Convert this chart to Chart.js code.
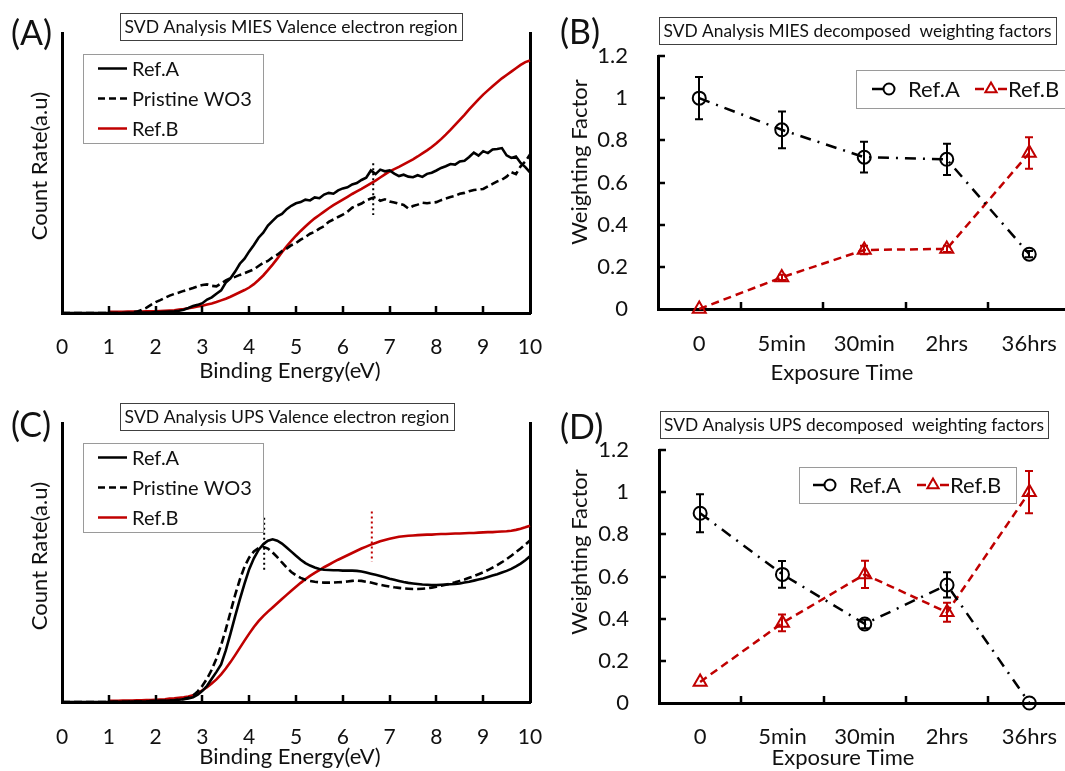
<!DOCTYPE html>
<html>
<head>
<meta charset="utf-8">
<script src="https://cdn.jsdelivr.net/npm/chart.js@4.4.1/dist/chart.umd.min.js"></script>
<style>
  html, body { margin: 0; padding: 0; background: #fff; }
  #fig { position: relative; width: 1065px; height: 771px; overflow: hidden; background: #fff; }
  #fig canvas { position: absolute; }
</style>
</head>
<body>
<div id="fig">
  <canvas id="cB" width="540" height="390" style="left:540px;top:0"></canvas>
  <canvas id="cD" width="540" height="381" style="left:540px;top:390px"></canvas>
  <canvas id="cA" width="560" height="390" style="left:0;top:0"></canvas>
  <canvas id="cC" width="560" height="381" style="left:0;top:390px"></canvas>
</div>
<script>
// ---------- data ----------
const energy = [
  0,0.1,0.2,0.3,0.4,0.5,0.6,0.7,0.8,0.9,
  1,1.1,1.2,1.3,1.4,1.5,1.6,1.7,1.8,1.9,
  2,2.1,2.2,2.3,2.4,2.5,2.6,2.7,2.8,2.9,
  3,3.1,3.2,3.3,3.4,3.5,3.6,3.7,3.8,3.9,
  4,4.1,4.2,4.3,4.4,4.5,4.6,4.7,4.8,4.9,
  5,5.1,5.2,5.3,5.4,5.5,5.6,5.7,5.8,5.9,
  6,6.1,6.2,6.3,6.4,6.5,6.6,6.7,6.8,6.9,
  7,7.1,7.2,7.3,7.4,7.5,7.6,7.7,7.8,7.9,
  8,8.1,8.2,8.3,8.4,8.5,8.6,8.7,8.8,8.9,
  9,9.1,9.2,9.3,9.4,9.5,9.6,9.7,9.8,9.9,
  10
];
const energyTicks = [0,1,2,3,4,5,6,7,8,9,10];

// MIES valence region (count rate, arbitrary units)
const miesRefA = [
  0,0,0,0,0,0,0,0,0,0,
  0,0,0,0,0.1,0.1,0.1,0.2,0.2,0.2,
  0.3,0.3,0.4,0.5,0.6,0.8,1.2,1.8,2.5,2.9,
  3.5,4.8,5.6,6.9,8.1,10.9,12.4,14.8,17.6,19.4,
  22.0,24.3,26.9,28.7,31.2,32.9,34.5,35.4,37.1,38.3,
  39.2,39.6,40.5,40.2,41.3,41.0,42.3,42.9,42.6,43.8,
  44.5,44.9,45.9,46.4,47.5,48.3,50.9,49.6,51.2,50.6,
  50.9,49.8,48.9,49.4,48.7,48.5,49.2,48.6,49.7,50.1,
  50.9,51.8,52.4,53.2,53.0,54.1,54.4,55.7,57.3,56.2,
  57.8,57.1,58.4,58.6,58.9,56.3,55.4,55.9,53.6,52.1,
  50.2
];
const miesPristine = [
  0,0,0,0,0,0,0,0,0,0,
  0,0,0,0,0,0.2,0.5,1.1,1.8,2.9,
  3.9,4.6,5.4,6.2,6.8,7.3,7.9,8.4,8.9,9.5,
  10.0,10.2,9.7,9.5,10.6,11.6,12.4,12.9,13.6,14.2,
  14.9,15.6,16.8,17.9,18.6,19.9,20.8,22.1,23.0,24.2,
  25.0,26.2,27.1,28.3,29.0,30.1,31.0,32.6,33.4,34.3,
  35.1,36.2,37.6,38.4,39.1,40.2,40.9,41.4,40.1,40.6,
  39.8,39.5,39.0,38.6,37.3,38.2,38.7,39.4,39.2,39.4,
  39.6,40.3,40.9,41.4,41.8,42.6,42.9,43.5,43.9,44.1,
  44.3,45.2,46.1,47.0,47.6,48.7,50.3,49.6,52.4,54.1,
  56.6
];
const miesRefB = [
  null,null,null,null,null,null,null,null,null,null,
  0.4,0.4,0.4,0.4,0.5,0.5,0.5,0.5,0.6,0.6,
  0.6,0.7,0.8,0.9,1.0,1.2,1.4,1.7,2.0,2.3,
  2.6,3.0,3.4,3.9,4.5,5.1,5.8,6.6,7.4,8.2,
  9.1,10.3,11.8,13.4,15.3,17.3,19.4,21.7,23.8,25.8,
  27.6,29.3,30.9,32.4,33.8,35.0,36.2,37.4,38.5,39.5,
  40.5,41.5,42.5,43.4,44.3,45.3,46.3,47.3,48.4,49.5,
  50.6,51.4,52.2,53.1,54.0,54.9,55.9,57.0,58.1,59.3,
  60.6,62.1,63.7,65.4,67.2,69.0,70.8,72.7,74.5,76.3,
  78.0,79.5,81.0,82.4,83.8,85.0,86.2,87.4,88.6,89.6,
  90.2
];
const miesPeakMark = [{x: 6.65, y: 53.5}, {x: 6.65, y: 35.0}];

// UPS valence region (count rate, arbitrary units)
const upsRefA = [
  0,0,0,0,0,0,0,0,0,0,
  0,0.1,0.1,0.1,0.1,0.2,0.2,0.2,0.2,0.3,
  0.3,0.4,0.4,0.5,0.6,0.8,1.0,1.3,1.7,2.6,
  4.0,5.8,8.3,10.8,13.5,18.5,24.5,30.8,36.8,42.4,
  47.6,51.5,54.5,56.6,57.8,58.3,57.8,56.8,55.4,53.9,
  52.4,51.0,49.8,48.9,48.2,47.7,47.4,47.3,47.2,47.2,
  47.1,47.1,47.1,47.0,46.8,46.4,46.0,45.6,45.2,44.7,
  44.2,43.8,43.4,43.0,42.7,42.5,42.3,42.1,42.0,41.9,
  41.9,42.0,42.1,42.2,42.3,42.5,42.8,43.1,43.5,43.9,
  44.3,44.8,45.3,45.8,46.4,47.0,47.7,48.6,49.6,50.8,
  52.2
];
const upsPristine = [
  0,0,0,0,0,0,0,0,0,0,
  0,0.1,0.1,0.1,0.1,0.2,0.2,0.2,0.2,0.3,
  0.3,0.4,0.4,0.5,0.6,0.8,1.1,1.5,2.3,3.8,
  5.8,8.4,11.6,15.6,20.4,26.0,32.2,38.4,43.9,48.5,
  51.8,54.0,55.2,55.6,55.0,53.6,51.9,50.0,48.2,46.6,
  45.4,44.5,43.8,43.4,43.1,42.9,42.8,42.8,42.8,42.9,
  43.0,43.2,43.4,43.5,43.4,43.1,42.8,42.4,42.0,41.7,
  41.4,41.1,40.9,40.7,40.6,40.5,40.5,40.6,40.7,41.0,
  41.3,41.7,42.0,42.5,42.9,43.4,43.9,44.5,45.1,45.8,
  46.5,47.3,48.2,49.1,50.1,51.2,52.4,53.7,55.0,56.4,
  57.9
];
const upsRefB = [
  null,null,null,null,null,null,null,null,null,null,
  0.4,0.4,0.4,0.5,0.5,0.5,0.6,0.6,0.7,0.7,
  0.8,0.9,1.0,1.2,1.3,1.5,1.7,2.0,2.4,3.1,
  4.2,5.3,6.6,8.1,9.9,12.0,14.3,16.8,19.4,22.0,
  24.5,26.9,29.0,30.8,32.4,33.9,35.4,36.9,38.4,39.9,
  41.3,42.7,44.0,45.2,46.3,47.3,48.3,49.2,50.1,51.0,
  51.8,52.6,53.4,54.2,55.0,55.7,56.4,57.0,57.6,58.1,
  58.5,58.9,59.2,59.4,59.6,59.7,59.8,59.9,60.0,60.0,
  60.1,60.2,60.2,60.3,60.4,60.4,60.5,60.6,60.6,60.7,
  60.8,60.9,60.9,61.0,61.1,61.2,61.4,61.7,62.1,62.6,
  63.2
];
const upsPeakMarkA = [{x: 4.32, y: 66.0}, {x: 4.32, y: 47.3}];
const upsPeakMarkB = [{x: 6.62, y: 68.3}, {x: 6.62, y: 50.3}];

// decomposed weighting factors
const exposure = ['0', '5min', '30min', '2hrs', '36hrs'];
const weightTicks = [0, 0.2, 0.4, 0.6, 0.8, 1, 1.2];
const miesWeightA    = [1.00, 0.85, 0.72, 0.71, 0.26];
const miesWeightAErr = [0.10, 0.087, 0.073, 0.074, 0.015];
const miesWeightB    = [0.00, 0.15, 0.28, 0.285, 0.74];
const miesWeightBErr = [0.00, 0.012, 0.02, 0.015, 0.075];
const upsWeightA     = [0.90, 0.61, 0.375, 0.56, 0.00];
const upsWeightAErr  = [0.09, 0.063, 0.02, 0.06, 0.00];
const upsWeightB     = [0.10, 0.38, 0.61, 0.43, 1.00];
const upsWeightBErr  = [0.00, 0.04, 0.065, 0.045, 0.10];

// ---------- styling ----------
const FONT = 'Lato, "Open Sans", sans-serif';
const INK = '#111';
const RED = '#c00000';
Chart.defaults.font.family = FONT;
Chart.defaults.color = INK;

function points(vals) {
  return energy.map((e, i) => ({x: e, y: vals[i]})).filter(p => p.y !== null);
}

function hollowMarker(ctx, style, color, r, x, y) {
  ctx.save();
  ctx.setLineDash([]);
  ctx.strokeStyle = color;
  ctx.fillStyle = 'rgba(0,0,0,0)';
  ctx.lineWidth = 2;
  Chart.helpers.drawPoint(ctx, {pointStyle: style, radius: r, borderWidth: 2, rotation: 0}, x, y);
  ctx.restore();
}

// axis tick marks pointing into the plot, panel letter, boxed title, axis titles and legend
const decor = {
  id: 'decor',
  afterDraw(chart, args, o) {
    const ctx = chart.ctx;
    const area = chart.chartArea;
    const xs = chart.scales.x, ys = chart.scales.y;
    ctx.save();
    ctx.strokeStyle = '#000';
    ctx.lineWidth = 2.5;
    ctx.setLineDash([]);
    ctx.beginPath();
    if (o.xInner === 'linear') {
      xs.ticks.forEach(t => {
        if (t.value > xs.min && t.value < xs.max) {
          const px = Math.round(xs.getPixelForValue(t.value));
          ctx.moveTo(px, area.bottom); ctx.lineTo(px, area.bottom - 7);
        }
      });
    } else {
      for (let i = 0; i < xs.ticks.length - 1; i++) {
        const px = Math.round((xs.getPixelForValue(i) + xs.getPixelForValue(i + 1)) / 2);
        ctx.moveTo(px, area.bottom); ctx.lineTo(px, area.bottom - 7);
      }
      ys.ticks.forEach(t => {
        if (t.value > ys.min) {
          const py = Math.round(ys.getPixelForValue(t.value));
          ctx.moveTo(area.left, py); ctx.lineTo(area.left + 7, py);
        }
      });
    }
    ctx.stroke();

    // panel letter
    ctx.fillStyle = INK;
    ctx.font = `34px ${FONT}`;
    ctx.textAlign = 'left';
    ctx.textBaseline = 'middle';
    ctx.fillText(o.letter, o.letterPos[0], o.letterPos[1]);

    // boxed title, text fitted to the box
    const [bx, by, bw, bh] = o.titleBox;
    ctx.fillStyle = '#fff';
    ctx.fillRect(bx, by, bw, bh);
    ctx.strokeStyle = '#404040';
    ctx.lineWidth = 1;
    ctx.strokeRect(Math.round(bx) + 0.5, Math.round(by) + 0.5, Math.round(bw), Math.round(bh));
    ctx.font = `16px ${FONT}`;
    const fs = 16 * o.titleWidth / ctx.measureText(o.title).width;
    ctx.font = `${fs.toFixed(2)}px ${FONT}`;
    ctx.fillStyle = INK;
    ctx.textAlign = 'center';
    ctx.fillText(o.title, bx + bw / 2, by + bh / 2 + 1);

    // axis titles
    ctx.font = `22px ${FONT}`;
    ctx.fillText(o.xTitle[0], o.xTitle[1], o.xTitle[2]);
    ctx.save();
    ctx.translate(o.yTitle[1], o.yTitle[2]);
    ctx.rotate(-Math.PI / 2);
    ctx.fillText(o.yTitle[0], 0, 0);
    ctx.restore();

    // legend
    const lg = o.legend;
    const [lx, ly, lw, lh] = lg.box;
    ctx.fillStyle = '#fff';
    ctx.fillRect(lx, ly, lw, lh);
    ctx.strokeStyle = '#9a9a9a';
    ctx.lineWidth = 1;
    ctx.strokeRect(Math.round(lx) + 0.5, Math.round(ly) + 0.5, Math.round(lw), Math.round(lh));
    ctx.font = `${lg.fontSize}px ${FONT}`;
    ctx.textAlign = 'left';
    lg.items.forEach(it => {
      ctx.strokeStyle = it.color;
      ctx.lineWidth = 2.5;
      ctx.setLineDash(it.dash || []);
      ctx.beginPath();
      it.segs.forEach(s => { ctx.moveTo(s[0], it.y); ctx.lineTo(s[1], it.y); });
      ctx.stroke();
      ctx.setLineDash([]);
      if (it.marker) hollowMarker(ctx, it.marker, it.color, it.r, it.mx, it.y);
      ctx.fillStyle = INK;
      ctx.fillText(it.label, it.tx, it.y + 1);
    });
    ctx.restore();
  }
};

// vertical error bars for the weighting-factor panels
const errorBars = {
  id: 'errorBars',
  afterDatasetsDraw(chart) {
    const ctx = chart.ctx;
    const xs = chart.scales.x, ys = chart.scales.y;
    ctx.save();
    ctx.setLineDash([]);
    ctx.lineWidth = 2;
    chart.data.datasets.forEach(ds => {
      if (!ds.errors) return;
      ctx.strokeStyle = ds.borderColor;
      ds.data.forEach((v, i) => {
        const e = ds.errors[i];
        if (!e) return;
        const px = Math.round(xs.getPixelForValue(i));
        const y1 = ys.getPixelForValue(v + e), y2 = ys.getPixelForValue(v - e);
        ctx.beginPath();
        ctx.moveTo(px, y1); ctx.lineTo(px, y2);
        ctx.moveTo(px - 4, y1); ctx.lineTo(px + 4, y1);
        ctx.moveTo(px - 4, y2); ctx.lineTo(px + 4, y2);
        ctx.stroke();
      });
    });
    ctx.restore();
  }
};

const axisBorder = {display: true, color: '#000', width: 3};

function spectrumChart(id, series, marks, g, decorOpts) {
  const datasets = [
    {label: 'Ref.A', data: points(series[0]), borderColor: '#000', borderWidth: 2.6},
    {label: 'Pristine WO3', data: points(series[1]), borderColor: '#000', borderWidth: 2.6, borderDash: [8, 4]},
    {label: 'Ref.B', data: points(series[2]), borderColor: RED, borderWidth: 2.6}
  ].concat(marks.map(m => ({data: m.data, borderColor: m.color, borderWidth: 2, borderDash: [2, 3]})));
  datasets.forEach(d => { d.pointRadius = 0; d.tension = 0; d.clip = false; });
  return new Chart(document.getElementById(id), {
    type: 'line',
    data: {datasets},
    plugins: [decor],
    options: {
      responsive: false, animation: false, devicePixelRatio: 1,
      layout: {padding: {left: 0, top: g.top, right: g.right, bottom: 0}},
      plugins: {legend: {display: false}, tooltip: {enabled: false}, decor: decorOpts},
      scales: {
        x: {
          type: 'linear', min: 0, max: 10,
          grid: {display: false}, border: axisBorder,
          ticks: {font: {size: 21}, color: INK, padding: g.tickPad, autoSkip: false, maxRotation: 0, callback: v => String(v)},
          afterBuildTicks: s => { s.ticks = energyTicks.map(v => ({value: v})); },
          afterFit: s => { s.height = g.xh; s.paddingLeft = 0; s.paddingRight = 0; }
        },
        y: {
          min: 0, max: 100,
          grid: {display: false}, border: axisBorder, ticks: {display: false},
          afterFit: s => { s.width = g.left; s.paddingTop = 0; s.paddingBottom = 0; }
        },
        yRight: {
          position: 'right', min: 0, max: 100,
          grid: {display: false}, border: axisBorder, ticks: {display: false},
          afterFit: s => { s.width = 0; s.paddingTop = 0; s.paddingBottom = 0; }
        }
      }
    }
  });
}

function weightChart(id, a, aErr, b, bErr, g, decorOpts) {
  return new Chart(document.getElementById(id), {
    type: 'line',
    data: {
      labels: exposure,
      datasets: [
        {label: 'Ref.A', data: a, errors: aErr, borderColor: '#000', borderWidth: 2.5, borderDash: [11, 7, 2, 7],
         pointStyle: 'circle', pointRadius: 6.5, pointBorderWidth: 2, pointBorderColor: '#000',
         pointBackgroundColor: 'rgba(0,0,0,0)', tension: 0, clip: false},
        {label: 'Ref.B', data: b, errors: bErr, borderColor: RED, borderWidth: 2.5, borderDash: [8, 5],
         pointStyle: 'triangle', pointRadius: 7.5, pointBorderWidth: 2, pointBorderColor: RED,
         pointBackgroundColor: 'rgba(0,0,0,0)', tension: 0, clip: false}
      ]
    },
    plugins: [errorBars, decor],
    options: {
      responsive: false, animation: false, devicePixelRatio: 1,
      layout: {padding: {left: 0, top: g.top, right: g.right, bottom: 0}},
      plugins: {legend: {display: false}, tooltip: {enabled: false}, decor: decorOpts},
      scales: {
        x: {
          type: 'category', offset: true,
          grid: {display: false, offset: true}, border: axisBorder,
          ticks: {font: {size: 22}, color: INK, padding: g.tickPad, autoSkip: false, maxRotation: 0},
          afterFit: s => { s.height = g.xh; s.paddingLeft = 0; s.paddingRight = 0; }
        },
        y: {
          min: 0, max: 1.2,
          grid: {display: false}, border: axisBorder,
          ticks: {font: {size: 22}, color: INK, padding: 22, callback: v => String(v)},
          afterBuildTicks: s => { s.ticks = weightTicks.map(v => ({value: v})); },
          afterFit: s => { s.width = g.left; s.paddingTop = 0; s.paddingBottom = 0; }
        }
      }
    }
  });
}

function spectrumLegend(boxTop) {
  const r0 = boxTop + 14.5;
  return {
    box: [82.5, boxTop, 180, 89], fontSize: 20,
    items: [
      {label: 'Ref.A', color: '#000', segs: [[98, 127]], y: r0, tx: 132},
      {label: 'Pristine WO3', color: '#000', dash: [7, 4], segs: [[98, 127]], y: r0 + 30, tx: 132},
      {label: 'Ref.B', color: RED, segs: [[98, 127]], y: r0 + 60, tx: 132}
    ]
  };
}

function weightLegend(box, y, xA, xB) {
  return {
    box, fontSize: 22,
    items: [
      {label: 'Ref.A', color: '#000', segs: [[xA, xA + 12]], marker: 'circle', r: 5.5, mx: xA + 17, y, tx: xA + 36},
      {label: 'Ref.B', color: RED, segs: [[xB, xB + 9], [xB + 23, xB + 32]], marker: 'triangle', r: 6.5, mx: xB + 16, y, tx: xB + 33}
    ]
  };
}

// (A) MIES spectra
spectrumChart('cA', [miesRefA, miesPristine, miesRefB],
  [{data: miesPeakMark, color: '#000'}],
  {top: 33, right: 30, left: 62, xh: 77, tickPad: 14},
  {letter: '(A)', letterPos: [11, 34],
   title: 'SVD Analysis MIES Valence electron region', titleBox: [120, 13, 342, 27], titleWidth: 333,
   xTitle: ['Binding Energy(eV)', 290, 371], yTitle: ['Count Rate(a.u)', 40, 166],
   xInner: 'linear', legend: spectrumLegend(54)});

// (B) MIES weighting factors
weightChart('cB', miesWeightA, miesWeightAErr, miesWeightB, miesWeightBErr,
  {top: 56, right: 5, left: 118, xh: 81, tickPad: 14},
  {letter: '(B)', letterPos: [20, 33],
   title: 'SVD Analysis MIES decomposed  weighting factors', titleBox: [119, 17, 397, 27], titleWidth: 388,
   xTitle: ['Exposure Time', 302, 373], yTitle: ['Weighting Factor', 40, 162],
   xInner: 'category', legend: weightLegend([316, 70, 230, 38], 89, 332, 435)});

// (C) UPS spectra
spectrumChart('cC', [upsRefA, upsPristine, upsRefB],
  [{data: upsPeakMarkA, color: '#000'}, {data: upsPeakMarkB, color: RED}],
  {top: 33, right: 30, left: 62, xh: 69, tickPad: 15},
  {letter: '(C)', letterPos: [11, 36],
   title: 'SVD Analysis UPS Valence electron region', titleBox: [120, 13, 334, 27], titleWidth: 325,
   xTitle: ['Binding Energy(eV)', 290, 367], yTitle: ['Count Rate(a.u)', 40, 166],
   xInner: 'linear', legend: spectrumLegend(53)});

// (D) UPS weighting factors
weightChart('cD', upsWeightA, upsWeightAErr, upsWeightB, upsWeightBErr,
  {top: 60, right: 5, left: 119, xh: 68, tickPad: 13},
  {letter: '(D)', letterPos: [20, 38],
   title: 'SVD Analysis UPS decomposed  weighting factors', titleBox: [120, 21, 388, 27], titleWidth: 380,
   xTitle: ['Exposure Time', 303, 368], yTitle: ['Weighting Factor', 40, 162],
   xInner: 'category', legend: weightLegend([258.5, 77, 217, 36], 95, 273, 377)});
</script>
</body>
</html>
